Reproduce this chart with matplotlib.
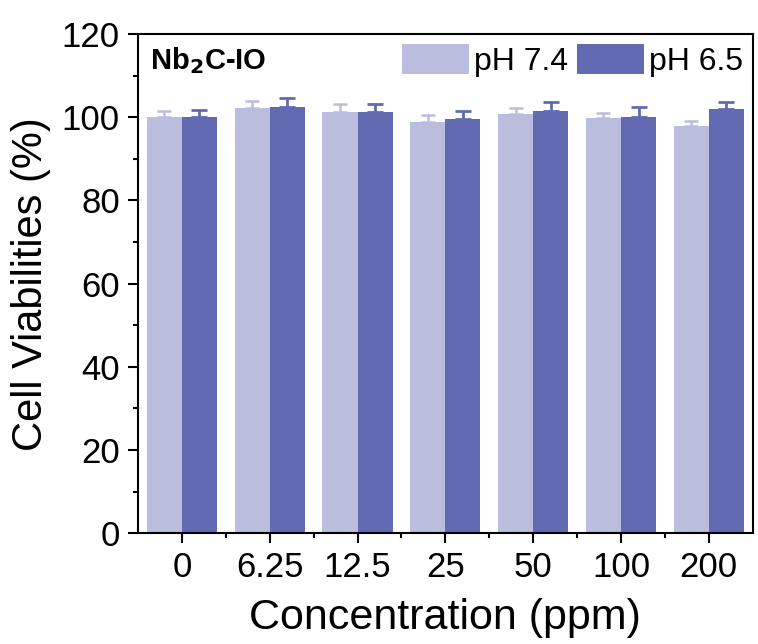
import matplotlib
matplotlib.use('Agg')
import matplotlib.pyplot as plt
import numpy as np
from matplotlib.ticker import MultipleLocator, FixedLocator

plt.rcParams['font.family'] = ['Liberation Sans', 'DejaVu Sans']

# data
conc = ['0', '6.25', '12.5', '25', '50', '100', '200']
ph74 = [100.0, 102.2, 101.3, 98.8, 100.7, 99.8, 98.0]
ph74_err = [1.4, 1.8, 1.9, 1.8, 1.6, 1.3, 1.1]
ph65 = [100.0, 102.6, 101.3, 99.5, 101.6, 100.0, 102.0]
ph65_err = [1.8, 2.0, 1.9, 1.9, 2.2, 2.5, 1.8]

light = '#BBBDDF'
dark = '#626AB2'

fig = plt.figure(figsize=(7.58, 6.44), dpi=100)
ax = fig.add_axes([0.182, 0.172, 0.811, 0.775])

x = np.arange(len(conc))
w = 0.4
ax.bar(x - w/2, ph74, w, color=light, label='pH 7.4',
       yerr=[np.zeros(len(x)), ph74_err], capsize=5,
       error_kw=dict(ecolor=light, elinewidth=1.8, capthick=1.8))
ax.bar(x + w/2, ph65, w, color=dark, label='pH 6.5',
       yerr=[np.zeros(len(x)), ph65_err], capsize=6,
       error_kw=dict(ecolor=dark, elinewidth=2, capthick=2))

ax.set_xlim(-0.5, len(conc) - 0.5)
ax.set_ylim(0, 120)
ax.set_xticks(x)
ax.set_xticklabels(conc)
ax.xaxis.set_minor_locator(FixedLocator(x[:-1] + 0.5))
ax.yaxis.set_major_locator(MultipleLocator(20))
ax.yaxis.set_minor_locator(MultipleLocator(10))

ax.tick_params(which='major', direction='out', length=7, width=1.5,
               labelsize=25, pad=6)
ax.tick_params(which='minor', direction='out', length=3.5, width=1.5)
for s in ax.spines.values():
    s.set_linewidth(1.5)

ax.set_xlabel('Concentration (ppm)', fontsize=31, labelpad=10)
ax.set_ylabel('Cell Viabilities (%)', fontsize=30, labelpad=8)

ax.text(0.02, 0.978, r'Nb$_\mathbf{2}$C-IO', transform=ax.transAxes,
        fontsize=21, fontweight='bold', va='top', ha='left')

ax.legend(loc='upper right', ncol=2, fontsize=23, frameon=False,
          handlelength=2.1, handleheight=1.1, handletextpad=0.15,
          columnspacing=0.3, borderaxespad=0.1, borderpad=0.2)

fig.savefig('out.png', dpi=100)
